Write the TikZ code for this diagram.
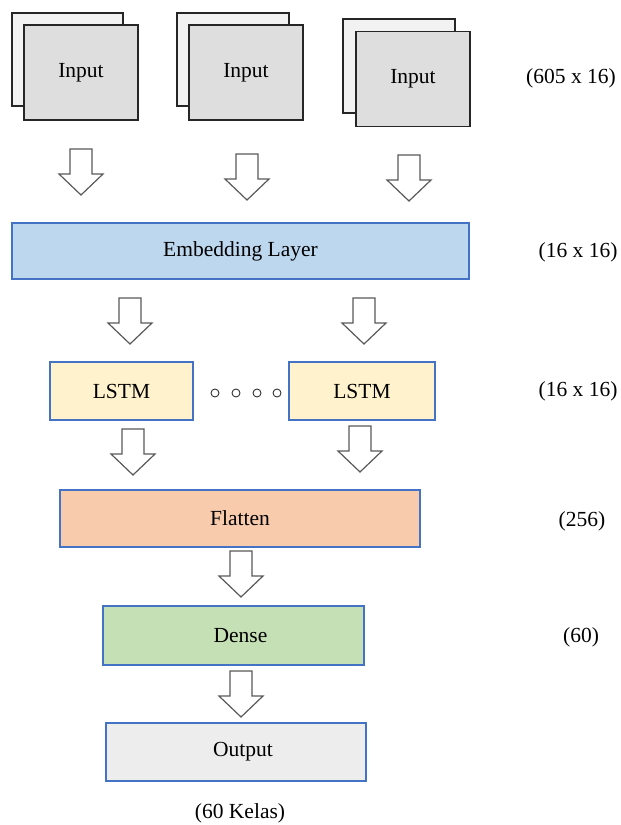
\documentclass[tikz,border=0pt]{standalone}
\usepackage{fontspec}
\setmainfont{Liberation Serif}
\definecolor{bordblue}{HTML}{4472C4}
\definecolor{embfill}{HTML}{BDD7EE}
\definecolor{lstmfill}{HTML}{FFF2CC}
\definecolor{flatfill}{HTML}{F8CBAD}
\definecolor{densefill}{HTML}{C5E0B4}
\definecolor{outfill}{HTML}{EDEDED}
\definecolor{inback}{HTML}{F2F2F2}
\definecolor{infront}{HTML}{DEDEDE}
\definecolor{arrgray}{HTML}{595959}
\begin{document}
\begin{tikzpicture}[x=1pt,y=-1pt,
  every node/.style={font=\fontsize{21.5}{25}\selectfont, inner sep=0pt},
  inback/.style={draw=black!85, line width=1.3pt, fill=inback, rectangle},
  infront/.style={draw=black!85, line width=1.3pt, fill=infront, rectangle},
  layer/.style={draw=bordblue, line width=1.2pt, rectangle},
  dimlabel/.style={},
  blockarrow/.pic={\draw[draw=arrgray, fill=white, line width=1.2pt, line join=miter]
     (-11,0) -- (11,0) -- (11,25) -- (22,25) -- (0,46) -- (-22,25) -- (-11,25) -- cycle;},
  dot/.style={draw=black!80, line width=0.9pt, fill=white}
]
\useasboundingbox (0,0) rectangle (621,825);

% Inputs
\node[inback, minimum width=111pt, minimum height=93pt] (in1b) at (67.5,59.5) {};
\node[infront, minimum width=114pt, minimum height=95pt] (in1) at (81,72.5) {Input};
\node[inback, minimum width=112pt, minimum height=93pt] (in2b) at (233,59.5) {};
\node[infront, minimum width=114pt, minimum height=95pt] (in2) at (246,72.5) {Input};
\node[inback, minimum width=112pt, minimum height=94pt] (in3b) at (399,66) {};
\node[infront, minimum width=114pt, minimum height=95pt] (in3) at (413,79) {Input};
\node[dimlabel] (d1) at (571,78) {(605 x 16)};

% arrows from inputs
\pic at (81,149) {blockarrow};
\pic at (247,154) {blockarrow};
\pic at (409,155) {blockarrow};

% Embedding
\node[layer, fill=embfill, minimum width=457pt, minimum height=56pt] (emb) at (240.5,251) {Embedding Layer};
\node[dimlabel] (d2) at (578,252) {(16 x 16)};

\pic at (130,298) {blockarrow};
\pic at (364,298) {blockarrow};

% LSTM
\node[layer, fill=lstmfill, minimum width=143pt, minimum height=58pt] (lstm1) at (121.5,391) {LSTM};
\node[layer, fill=lstmfill, minimum width=146pt, minimum height=58pt] (lstm2) at (362,391) {LSTM};
\foreach \xx [count=\i] in {215,236,257,277}
  \node[dot, circle, minimum size=8pt] (dot\i) at (\xx,393) {};
\node[dimlabel] (d3) at (578,391) {(16 x 16)};

\pic at (133,429) {blockarrow};
\pic at (360,426) {blockarrow};

% Flatten
\node[layer, fill=flatfill, minimum width=360pt, minimum height=57pt] (flat) at (240,518.5) {Flatten};
\node[dimlabel] (d4) at (582,521) {(256)};

\pic at (241,551) {blockarrow};

% Dense
\node[layer, fill=densefill, minimum width=261pt, minimum height=59pt] (dense) at (233.5,635.5) {\hspace{14pt}Dense};
\node[dimlabel] (d5) at (581,637) {(60)};

\pic at (241,671) {blockarrow};

% Output
\node[layer, fill=outfill, minimum width=260pt, minimum height=58pt] (out) at (236,752) {\hspace{14pt}Output};
\node[dimlabel] (d6) at (240,813) {(60 Kelas)};
\end{tikzpicture}
\end{document}
